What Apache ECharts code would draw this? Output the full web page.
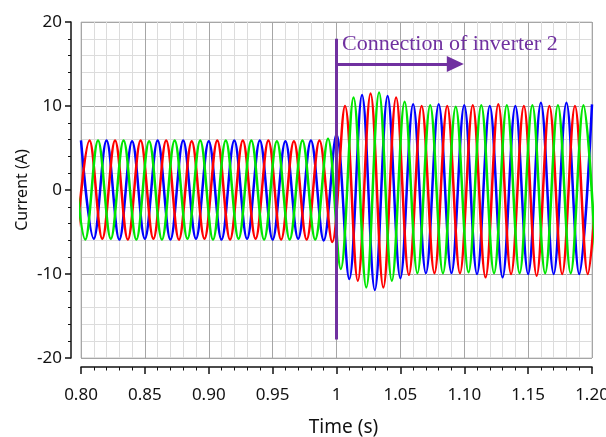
<!DOCTYPE html>
<html>
<head>
<meta charset="utf-8">
<script src="https://cdn.jsdelivr.net/npm/echarts@6/dist/echarts.min.js"></script>
<style>
  html, body { margin: 0; padding: 0; background: #fff; }
  #chart { width: 606px; height: 437px; }
</style>
</head>
<body>
<div id="chart"></div>
<script>
// x axis labels (0.80 .. 1.20, step 0.05)
const xTickLabels = ['0.80', '0.85', '0.90', '0.95', '1', '1.05', '1.10', '1.15', '1.20'];

// 50 Hz currents: one extreme (peak / trough) every half period
const halfPeriod = 0.01;
const blueStart = 0.8;
const redStart = 0.8 - 1 / 300;
const greenStart = 0.8 - 2 / 300;

// peak and trough values, in time order
const blueExtremes = [
  5.9, -5.8, 5.9, -5.9, 5.8, -5.8, 5.9, -5.9, 5.9, -5.8,
  5.8, -5.9, 5.9, -5.8, 5.9, -5.9, 5.8, -5.8, 5.9, -6.0,
  6.6, -10.6, 11.3, -11.9, 11.2, -10.5, 10.2, -9.9, 10.2, -9.9,
  10.1, -10.0, 10.0, -10.4, 10.0, -10.0, 10.4, -10.0, 10.4, -10.0,
  10.2
];
const redExtremes = [
  -5.9, 5.9, -5.8, 5.9, -5.9, 5.9, -5.8, 5.9, -5.9, 5.8,
  -5.8, 5.9, -5.9, 5.9, -5.8, 5.9, -5.9, 5.8, -5.9, 5.9,
  -6.2, 10.0, -10.8, 11.5, -11.6, 11.0, -10.1, 10.0, -9.9, 10.0,
  -9.9, 10.1, -10.4, 10.2, -10.0, 10.0, -10.2, 10.0, -10.0, 10.0,
  -10.0, 10.0
];
const greenExtremes = [
  5.9, -5.9, 5.9, -5.8, 5.9, -5.9, 5.8, -5.9, 5.9, -5.8,
  5.9, -5.9, 5.9, -5.8, 5.9, -5.9, 5.8, -5.9, 5.9, -5.9,
  6.1, -9.4, 11.0, -11.6, 11.6, -10.8, 10.5, -9.9, 10.1, -9.9,
  9.9, -9.8, 10.1, -9.9, 10.1, -9.9, 10.1, -9.9, 10.1, -9.9,
  10.1, -9.9
];

// annotation
const connectionTime = 1.0;
const markerSpan = [-17.8, 18];
const arrowLevel = 15;
const arrowEnd = 1.093;
const noteLevel = 17.3;
const noteText = 'Connection of inverter 2';

const purple = '#7030a0';
const sans = 'Noto Sans';

function toPoints(start, extremes) {
  return extremes.map((v, i) => [start + i * halfPeriod, v]);
}

function phase(name, color, start, extremes) {
  return {
    name: name,
    type: 'line',
    data: toPoints(start, extremes),
    smooth: 0.36,
    symbol: 'none',
    silent: true,
    lineStyle: { color: color, width: 2.5 },
  };
}

const axisColor = '#111';

let option = {
  animation: false,
  backgroundColor: '#fff',
  grid: {
    left: 81, right: 14, top: 22, bottom: 79,
    show: true,
    borderColor: '#c4c4c4',
    borderWidth: 1,
    outerBoundsMode: 'none',
  },
  xAxis: {
    type: 'value',
    min: 0.8,
    max: 1.2,
    interval: 0.05,
    offset: 9,
    name: 'Time (s)',
    nameLocation: 'middle',
    nameGap: 51,
    nameMoveOverlap: false,
    nameTextStyle: { fontFamily: sans, fontSize: 19, color: axisColor, padding: [0, 0, 0, 14] },
    axisLine: { show: true, onZero: false, lineStyle: { color: axisColor, width: 1.5 } },
    axisTick: { show: true, length: 7, lineStyle: { color: axisColor, width: 1.5 } },
    minorTick: { show: true, splitNumber: 5, length: 3.5, lineStyle: { color: axisColor, width: 1 } },
    axisLabel: {
      margin: 20,
      fontFamily: sans,
      fontSize: 17,
      color: axisColor,
      formatter: (v) => xTickLabels[Math.round((v - 0.8) / 0.05)],
    },
    splitLine: { show: true, lineStyle: { color: '#a6a6a6', width: 1 } },
    minorSplitLine: { show: true, lineStyle: { color: '#dcdcdc', width: 1 } },
  },
  yAxis: {
    type: 'value',
    min: -20,
    max: 20,
    interval: 10,
    offset: 10,
    name: 'Current (A)',
    nameLocation: 'middle',
    nameGap: 41,
    nameMoveOverlap: false,
    nameTextStyle: { fontFamily: sans, fontSize: 16, color: axisColor },
    axisLine: { show: true, onZero: false, lineStyle: { color: axisColor, width: 1.5 } },
    axisTick: { show: true, length: 6, lineStyle: { color: axisColor, width: 1.5 } },
    minorTick: { show: true, splitNumber: 5, length: 3, lineStyle: { color: axisColor, width: 1 } },
    axisLabel: { margin: 9, fontFamily: sans, fontSize: 17, color: axisColor },
    splitLine: { show: true, lineStyle: { color: '#a6a6a6', width: 1 } },
    minorSplitLine: { show: true, lineStyle: { color: '#dcdcdc', width: 1 } },
  },
  series: [
    phase('Ia', '#0000ff', blueStart, blueExtremes),
    phase('Ib', '#ff0000', redStart, redExtremes),
    phase('Ic', '#00e600', greenStart, greenExtremes),
    {
      name: 'connection',
      type: 'line',
      data: markerSpan.map((v) => [connectionTime, v]),
      symbol: 'none',
      silent: true,
      z: 5,
      lineStyle: { color: purple, width: 3 },
      markLine: {
        silent: true,
        symbol: ['none', 'triangle'],
        symbolSize: [16, 17],
        lineStyle: { color: purple, width: 3, type: 'solid' },
        itemStyle: { color: purple },
        label: { show: false },
        emphasis: { disabled: true },
        data: [[{ coord: [connectionTime, arrowLevel] }, { coord: [arrowEnd, arrowLevel] }]],
      },
      markPoint: {
        silent: true,
        symbol: 'circle',
        symbolSize: 1,
        itemStyle: { color: 'rgba(0,0,0,0)' },
        label: {
          show: true,
          position: 'right',
          distance: 5,
          formatter: noteText,
          color: purple,
          fontFamily: 'Liberation Serif',
          fontSize: 22,
        },
        data: [{ coord: [connectionTime, noteLevel] }],
      },
    },
  ],
};

var myChart = echarts.init(document.getElementById('chart'));
myChart.setOption(option);
</script>
</body>
</html>
